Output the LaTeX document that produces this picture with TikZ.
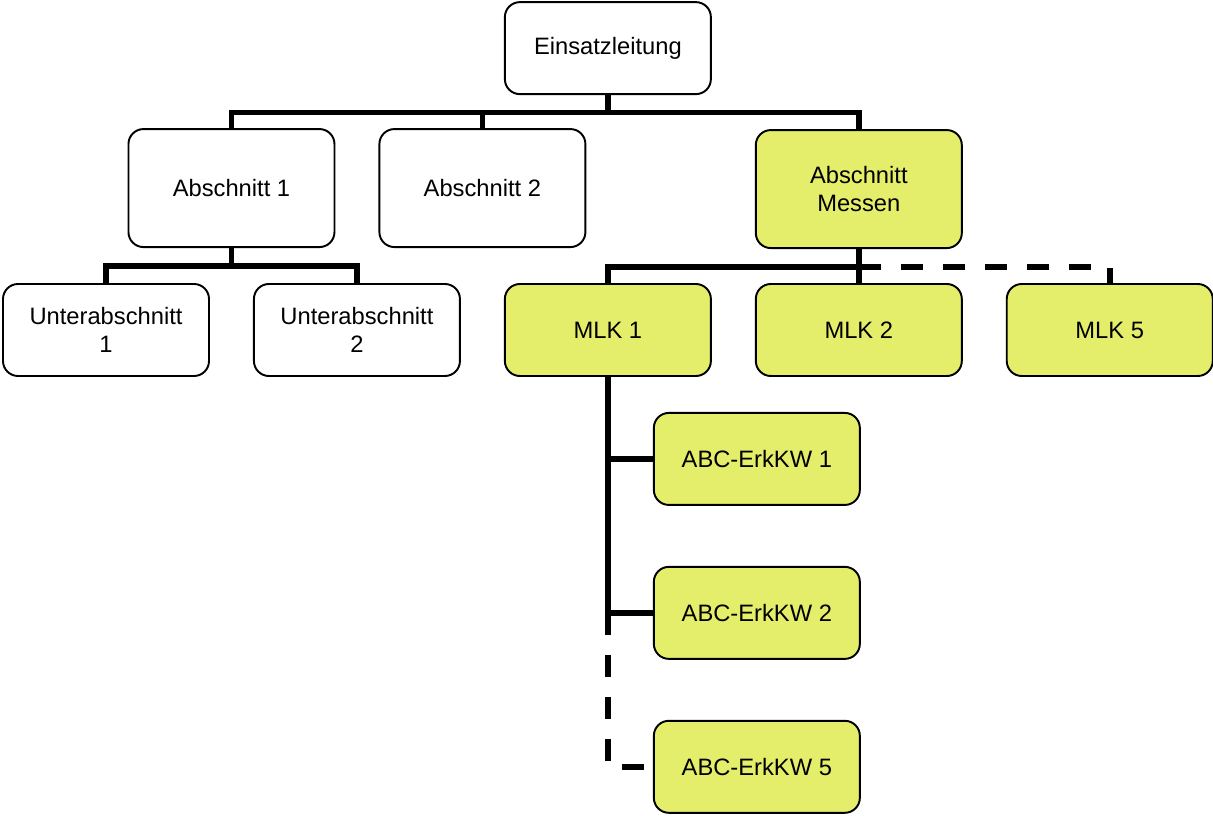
\documentclass[tikz,border=0pt]{standalone}
\usepackage{fontspec}
\setmainfont{Liberation Sans}
\usepackage{tikz}
\usetikzlibrary{positioning,calc}
\definecolor{unit}{RGB}{228,238,106}
\definecolor{frame}{RGB}{0,0,0}

\begin{document}
\begin{tikzpicture}[
  node distance=0.68cm and 0.86cm,
  box/.style={rectangle,draw=frame,line width=1.1pt,fill=white,minimum width=4.12cm,minimum height=1.84cm,align=center,rounded corners=0.3cm,font=\fontsize{13.5}{16}\selectfont,inner sep=2pt},
  sect/.style={box,minimum height=2.36cm},
  meas/.style={fill=unit},
  link/.style={line width=3.2pt,frame},
  opt/.style={link,dash pattern=on 0.44cm off 0.4cm}
]
\useasboundingbox (0,0) rectangle (24.26,-16.32);
\node[box] (ua1) at (2.12,-6.6) {Unterabschnitt\\ 1};
\node[box, right=of ua1] (ua2) {Unterabschnitt\\ 2};
\node[box,meas, right=of ua2] (mlk1) {MLK 1};
\node[box,meas, right=of mlk1] (mlk2) {MLK 2};
\node[box,meas, right=of mlk2] (mlk5) {MLK 5};
\coordinate (ua12) at ($(ua1.north)!0.5!(ua2.north)$);
\node[sect, above=0.7cm of ua12] (ab1) {Abschnitt 1};
\node[sect, right=of ab1] (ab2) {Abschnitt 2};
\node[sect,meas, above=of mlk2] (abm) {Abschnitt\\ Messen};
\coordinate (top) at (mlk1 |- ab2.north);
\node[box, above=0.66cm of top] (el) {Einsatzleitung};
\node[box,meas, below right=0.7cm and 0.9cm of mlk1.south] (abc1) {ABC-ErkKW 1};
\node[box,meas, below=1.2cm of abc1] (abc2) {ABC-ErkKW 2};
\node[box,meas, below=1.2cm of abc2] (abc5) {ABC-ErkKW 5};
% Leitung -> Abschnitte
\draw[link] (el.south) -- ++(0,-0.35) -| (ab1.north);
\draw[link] (el.south) -- ++(0,-0.35) -| (ab2.north);
\draw[link] (el.south) -- ++(0,-0.35) -| (abm.north);
% Abschnitt 1
\draw[link] (ab1.south) -- ++(0,-0.36) -| (ua1.north);
\draw[link] (ab1.south) -- ++(0,-0.36) -| (ua2.north);
% Abschnitt Messen
\draw[link] (abm.south) -- ++(0,-0.36) -| (mlk1.north);
\draw[link] (abm.south) -- (mlk2.north);
\draw[opt] ([yshift=-0.36cm]abm.south) -| (mlk5.north);
% MLK 1
\draw[link] (mlk1.south) |- (abc2.west);
\draw[link] (mlk1.south |- abc1.west) -- (abc1.west);
\draw[opt] (mlk1.south |- abc2.west) |- (abc5.west);
\end{tikzpicture}
\end{document}
